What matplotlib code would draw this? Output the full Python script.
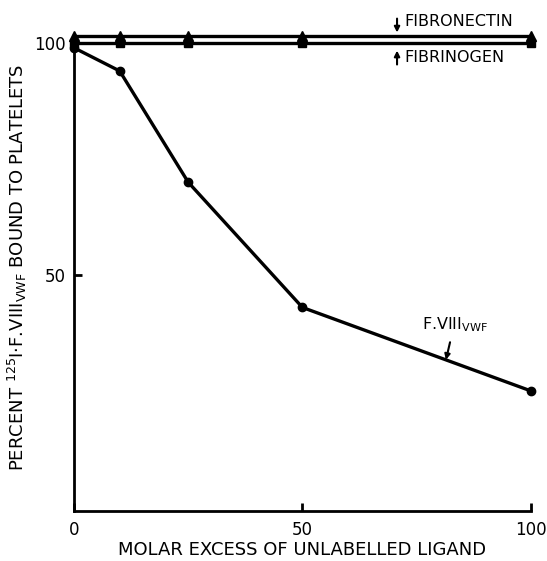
import matplotlib
matplotlib.use("Agg")
import matplotlib.pyplot as plt

molar_excess = [0, 10, 25, 50, 100]
fibronectin = [101.5, 101.5, 101.5, 101.5, 101.5]
fibrinogen = [100, 100, 100, 100, 100]
f8vwf = [99, 94, 70, 43, 25]

x_ticks = [0, 50, 100]
y_ticks = [50, 100]

plt.rcParams['font.family'] = ['DejaVu Sans']
fig = plt.figure(figsize=(5.47, 5.61), dpi=100)
ax = fig.add_axes([0.1353, 0.0891, 0.852, 0.867])

ax.plot(molar_excess, fibronectin, color='black', lw=2.4, marker='^',
        markersize=7, clip_on=False, zorder=3)
ax.plot(molar_excess, fibrinogen, color='black', lw=2.4, marker='s',
        markersize=6, clip_on=False, zorder=3)
ax.plot(molar_excess, f8vwf, color='black', lw=2.4, marker='o',
        markersize=6, clip_on=False, zorder=3)

ax.set_xlim(0, 102)
ax.set_ylim(-0.9, 104)
for s in ['top', 'right']:
    ax.spines[s].set_visible(False)
for s in ['left', 'bottom']:
    ax.spines[s].set_linewidth(2)
ax.spines['left'].set_bounds(-0.9, 100)
ax.spines['bottom'].set_bounds(0, 100)

ax.set_xticks(x_ticks)
ax.set_xticklabels([str(v) for v in x_ticks], fontsize=12)
ax.set_yticks(y_ticks)
ax.set_yticklabels([str(v) for v in y_ticks], fontsize=12)
ax.tick_params(axis='both', direction='in', length=6, width=2)
ax.tick_params(axis='x', pad=7)
ax.tick_params(axis='y', pad=6)

ax.set_xlabel('MOLAR EXCESS OF UNLABELLED LIGAND', fontsize=13, va='center')
ax.xaxis.set_label_coords(0.49, -0.080)
ax.set_ylabel(r'PERCENT $^{125}$I$\cdot$F.VIII$_{\mathregular{VWF}}$ BOUND TO PLATELETS',
              fontsize=13, va='center')
ax.yaxis.set_label_coords(-0.122, 0.5)

arrow_kw = dict(arrowstyle='-|>', color='black', lw=1.5, mutation_scale=8,
                shrinkA=0, shrinkB=0)
ax.annotate('', xy=(70.7, 102.3), xytext=(70.7, 105.3),
            arrowprops=arrow_kw, annotation_clip=False)
ax.text(72.2, 104.7, 'FIBRONECTIN', fontsize=11.5, va='center', ha='left')
ax.annotate('', xy=(70.7, 98.4), xytext=(70.7, 95.4),
            arrowprops=arrow_kw, annotation_clip=False)
ax.text(72.2, 97.0, 'FIBRINOGEN', fontsize=11.5, va='center', ha='left')

ax.text(83.4, 39.2, r'F.VIII$_{\mathregular{VWF}}$', fontsize=11.5, ha='center', va='center')
ax.annotate('', xy=(81.4, 31.7), xytext=(82.3, 35.5), arrowprops=arrow_kw)

fig.savefig('out.png', dpi=100)
